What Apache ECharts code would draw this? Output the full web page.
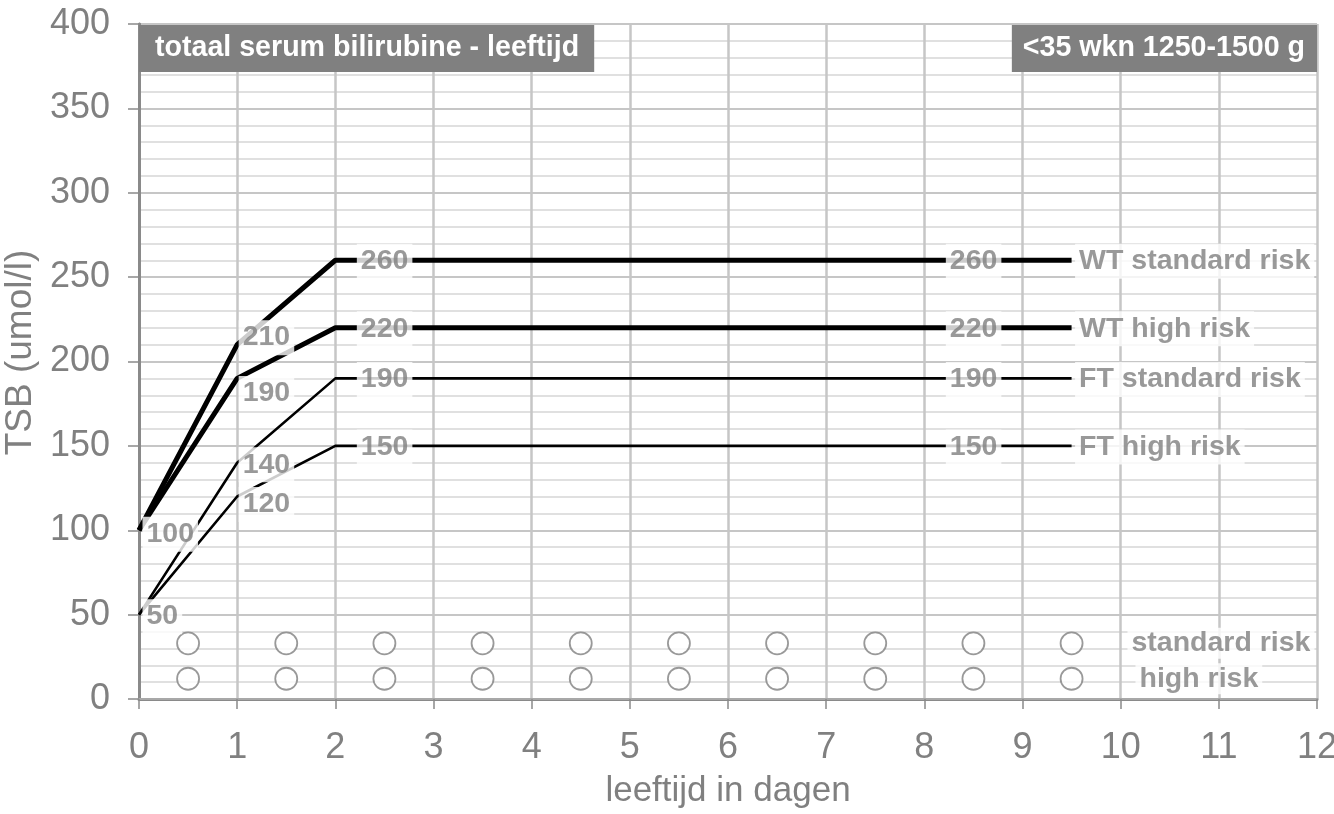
<!DOCTYPE html>
<html>
<head>
<meta charset="utf-8">
<script src="https://cdn.jsdelivr.net/npm/echarts@6/dist/echarts.min.js"></script>
<style>
html,body{margin:0;padding:0;background:#fff;}
#chart{width:1334px;height:814px;}
</style>
</head>
<body>
<div id="chart"></div>
<script>
// ---- data ----
const titleText = 'totaal serum bilirubine - leeftijd';
const groupText = '<35 wkn 1250-1500 g';
const xAxisName = 'leeftijd in dagen';
const yAxisName = 'TSB (umol/l)';

const days = [0, 1, 2, 8, 9.5];
const seriesNames = ['WT standard risk', 'WT high risk', 'FT standard risk', 'FT high risk'];
const wtStandard = [100, 210, 260, 260, 260];
const wtHigh = [100, 190, 220, 220, 220];
const ftStandard = [50, 140, 190, 190, 190];
const ftHigh = [50, 120, 150, 150, 150];

const circleDays = [0.5, 1.5, 2.5, 3.5, 4.5, 5.5, 6.5, 7.5, 8.5, 9.5];
const circleStandard = [33, 33, 33, 33, 33, 33, 33, 33, 33, 33];
const circleHigh = [12, 12, 12, 12, 12, 12, 12, 12, 12, 12];
const circleNames = ['standard risk', 'high risk'];

// ---- styles ----
const FONT = 'Liberation Sans, Arial, sans-serif';
const GRAY = '#808080';
const lineValues = [wtStandard, wtHigh, ftStandard, ftHigh];
const lineWidths = [5, 5, 2.6, 2.6];
const showDay0 = [true, false, true, false];
const day0Offset = [4, 0, 2, 0];
const day1Offset = [-7, 15, 2, 8];

const baseLabel = {
  show: true,
  color: GRAY,
  fontFamily: FONT,
  fontWeight: 'bold',
  fontSize: 28.5,
  backgroundColor: '#ffffff',
  padding: [3, 4, 3, 4],
  position: 'right'
};

const lineSeries = lineValues.map((vals, si) => ({
  type: 'line',
  name: seriesNames[si],
  data: days.map((d, i) => [d, vals[i]]),
  symbol: 'none',
  lineStyle: { color: '#000', width: lineWidths[si] },
  z: 3,
  silent: true
}));

const labelSeries = lineValues.map((vals, si) => ({
  type: 'scatter',
  symbolSize: 1,
  itemStyle: { color: 'rgba(0,0,0,0)' },
  z: 10,
  silent: true,
  data: days.map((d, i) => {
    let lab;
    if (i === 0) {
      lab = showDay0[si] ? Object.assign({}, baseLabel, { distance: 3, offset: [0, day0Offset[si]], formatter: String(vals[i]) }) : { show: false };
    } else if (i === 1) {
      lab = Object.assign({}, baseLabel, { distance: 1, offset: [0, day1Offset[si]], formatter: String(vals[i]) });
    } else if (i === 4) {
      lab = Object.assign({}, baseLabel, { distance: 3, offset: [0, 1], formatter: seriesNames[si] });
    } else {
      lab = Object.assign({}, baseLabel, { distance: 21, offset: [0, 1], formatter: String(vals[i]) });
    }
    return { value: [d, vals[i]], label: lab };
  })
}));

function circleSeries(vals, name, dist) {
  return {
    type: 'scatter',
    name: name,
    symbol: 'circle',
    symbolSize: 22,
    itemStyle: { color: '#fff', borderColor: GRAY, borderWidth: 1.8 },
    z: 5,
    silent: true,
    data: circleDays.map((d, i) => {
      const item = { value: [d, vals[i]] };
      if (i === circleDays.length - 1) {
        item.label = Object.assign({}, baseLabel, { distance: dist, formatter: name, padding: [1, 4, 1, 4] });
      }
      return item;
    })
  };
}

const chart = echarts.init(document.getElementById('chart'), null, { renderer: 'canvas' });
chart.setOption({
  animation: false,
  backgroundColor: '#fff',
  title: [
    {
      text: titleText, left: 139, top: 25,
      backgroundColor: GRAY, padding: [9, 15, 9, 16],
      textStyle: { color: '#fff', fontSize: 28.6, fontWeight: 'bold', fontFamily: FONT }
    },
    {
      text: groupText, right: 17, top: 25,
      backgroundColor: GRAY, padding: [9, 12, 9, 11],
      textStyle: { color: '#fff', fontSize: 28.6, fontWeight: 'bold', fontFamily: FONT }
    }
  ],
  grid: { left: 139, right: 17, top: 24, bottom: 115, containLabel: false, outerBoundsMode: 'none' },
  xAxis: [
    {
      type: 'value', min: 0, max: 12, interval: 1,
      name: xAxisName, nameLocation: 'middle', nameGap: 75,
      nameTextStyle: { color: GRAY, fontSize: 35, fontFamily: FONT },
      axisLine: { show: true, lineStyle: { color: '#8a8a8a', width: 3 } },
      axisTick: { show: true, length: 10, lineStyle: { color: '#8a8a8a', width: 1.5 } },
      axisLabel: { color: GRAY, fontSize: 36, fontFamily: FONT, margin: 31 },
      splitLine: { show: true, lineStyle: { color: '#c6c6c6', width: 2.5 } }
    },
    {
      type: 'value', min: 0, max: 12, position: 'top',
      axisLine: { show: true, lineStyle: { color: '#a8a8a8', width: 2 } },
      axisTick: { show: false }, axisLabel: { show: false }, splitLine: { show: false }
    }
  ],
  yAxis: [
    {
      type: 'value', min: 0, max: 400, interval: 50,
      name: yAxisName, nameLocation: 'middle', nameGap: 93, nameRotate: 90,
      nameTextStyle: { color: GRAY, fontSize: 37, fontFamily: FONT, padding: [0, 0, 0, 18] },
      axisLine: { show: true, lineStyle: { color: '#8a8a8a', width: 2.5 } },
      axisTick: { show: true, length: 11, lineStyle: { color: '#8a8a8a', width: 1.5 } },
      axisLabel: { color: GRAY, fontSize: 36, fontFamily: FONT, margin: 29 },
      splitLine: { show: true, lineStyle: { color: '#c6c6c6', width: 2.2 } },
      minorTick: { show: false, splitNumber: 5 },
      minorSplitLine: { show: true, lineStyle: { color: '#d6d6d6', width: 1.5 } }
    },
    {
      type: 'value', min: 0, max: 400, position: 'right',
      axisLine: { show: true, lineStyle: { color: '#8a8a8a', width: 3 } },
      axisTick: { show: false }, axisLabel: { show: false }, splitLine: { show: false }
    }
  ],
  series: [].concat(
    lineSeries,
    [circleSeries(circleStandard, circleNames[0], 44), circleSeries(circleHigh, circleNames[1], 52)],
    labelSeries
  )
});
</script>
</body>
</html>
